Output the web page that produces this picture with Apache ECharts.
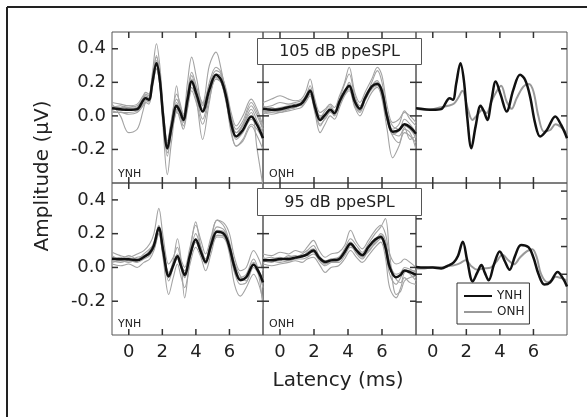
<!DOCTYPE html>
<html><head><meta charset="utf-8">
<script src="https://cdn.jsdelivr.net/npm/echarts@6/dist/echarts.min.js"></script>
<style>html,body{margin:0;padding:0;background:#fff}#c{width:587px;height:417px}</style>
</head><body><div id="c"></div>
<script>
// ---------- data ----------
const xRange = [-1, 8];
const xTicks = [0, 2, 4, 6];
const yTicks = [-0.2, 0, 0.2, 0.4];
const yTicksRightBottom = [-0.2, 0, 0.2, 0.4, 0.6];
const panelLabels = ['YNH', 'ONH'];
const levelLabels = ['105 dB ppeSPL', '95 dB ppeSPL'];

// 105 dB, YNH
const x105Y = [-1,-0.5,0,0.5,0.85,1.0,1.2,1.4,1.65,1.85,2.05,2.3,2.55,2.85,3.05,3.25,3.5,3.75,4.05,4.4,4.8,5.2,5.5,5.8,6.1,6.4,6.8,7.3,7.65,8.0];
const mean105Y = [0.046,0.04,0.036,0.04,0.092,0.105,0.096,0.195,0.314,0.215,-0.004,-0.193,-0.064,0.06,0.026,-0.024,0.096,0.205,0.125,0.026,0.155,0.245,0.215,0.115,-0.044,-0.123,-0.084,-0.004,-0.054,-0.133];
const ind105Y_1 = [0.08,0.07,0.06,0.07,0.12,0.14,0.13,0.25,0.43,0.30,0.05,-0.15,-0.02,0.10,0.06,0.01,0.14,0.26,0.17,0.06,0.18,0.27,0.25,0.14,0.00,-0.08,-0.03,0.08,0.02,-0.08];
const ind105Y_2 = [0.03,0.02,0.02,0.03,0.07,0.09,0.10,0.22,0.36,0.20,-0.08,-0.35,-0.15,0.02,0.00,-0.06,0.05,0.17,0.10,-0.02,0.12,0.22,0.20,0.10,-0.08,-0.18,-0.15,-0.06,-0.12,-0.20];
const ind105Y_3 = [0.07,0.0,-0.10,-0.08,0.03,0.08,0.09,0.18,0.28,0.18,-0.03,-0.22,-0.10,0.03,0.05,-0.02,0.10,0.22,0.16,0.08,0.30,0.38,0.28,0.12,-0.02,-0.10,-0.05,0.02,-0.20,-0.42];
const ind105Y_4 = [0.06,0.05,0.05,0.06,0.10,0.12,0.11,0.20,0.33,0.24,0.02,-0.16,-0.02,0.13,0.08,0.00,0.20,0.35,0.22,0.07,0.17,0.24,0.22,0.12,-0.02,-0.10,-0.06,0.04,-0.03,-0.10];
const ind105Y_5 = [0.02,0.02,0.01,0.02,0.06,0.08,0.07,0.16,0.28,0.19,-0.03,-0.20,-0.09,0.04,-0.02,-0.08,0.04,0.15,0.07,-0.05,0.10,0.22,0.20,0.09,-0.10,-0.18,-0.14,-0.05,-0.08,-0.14];
const ind105Y_6 = [0.05,0.06,0.04,0.05,0.11,0.13,0.12,0.22,0.35,0.25,0.01,-0.17,-0.06,0.18,0.04,-0.04,0.08,0.20,0.08,-0.14,0.08,0.25,0.24,0.16,0.02,-0.06,0.00,0.10,0.04,-0.06];
const ind105Y_7 = [0.04,0.05,0.06,0.05,0.10,0.12,0.08,0.19,0.30,0.22,0.02,-0.19,-0.08,0.05,0.02,-0.03,0.11,0.21,0.13,0.03,0.16,0.23,0.20,0.08,-0.06,-0.14,-0.10,-0.02,-0.06,-0.12];
const ind105Y_8 = [0.06,0.03,0.04,0.03,0.09,0.11,0.10,0.21,0.32,0.20,-0.02,-0.24,-0.08,0.08,0.04,-0.01,0.12,0.24,0.14,0.04,0.20,0.29,0.26,0.14,-0.03,-0.12,-0.05,0.06,0.00,-0.08];

// 105 dB, ONH
const x105O = [-1,-0.5,0,0.5,0.9,1.25,1.5,1.77,2.05,2.36,2.65,2.96,3.2,3.5,3.8,4.07,4.4,4.7,5.0,5.4,5.73,6.0,6.3,6.63,7.0,7.32,7.65,8.0];
const mean105O = [0.042,0.036,0.04,0.052,0.06,0.072,0.105,0.15,0.056,-0.024,0.006,0.036,0.016,0.086,0.145,0.18,0.086,0.042,0.105,0.175,0.19,0.145,-0.004,-0.094,-0.084,-0.05,-0.068,-0.107];
const ind105O_1 = [0.08,0.10,0.12,0.10,0.09,0.10,0.14,0.22,0.10,0.02,0.04,0.07,0.05,0.12,0.20,0.29,0.14,0.08,0.14,0.22,0.29,0.24,0.06,-0.04,-0.02,0.02,0.00,-0.04];
const ind105O_2 = [0.02,0.01,0.02,0.03,0.04,0.05,0.08,0.12,0.02,-0.10,-0.05,0.00,-0.02,0.05,0.12,0.15,0.05,0.00,0.06,0.14,0.17,0.10,-0.08,-0.25,-0.18,-0.10,-0.12,-0.16];
const ind105O_3 = [0.05,0.06,0.08,0.07,0.08,0.09,0.11,0.18,0.07,-0.01,0.03,0.06,0.03,0.10,0.19,0.25,0.12,0.06,0.10,0.20,0.27,0.20,0.02,-0.06,-0.08,-0.02,-0.05,-0.10];
const ind105O_4 = [0.03,0.02,0.03,0.04,0.05,0.07,0.10,0.14,0.04,-0.05,-0.02,0.02,0.01,0.07,0.13,0.16,0.06,0.02,0.09,0.16,0.18,0.12,-0.03,-0.12,-0.16,-0.08,-0.10,-0.20];
const ind105O_5 = [0.06,0.04,0.05,0.06,0.07,0.08,0.12,0.16,0.08,0.00,0.01,0.05,0.02,0.09,0.14,0.20,0.10,0.05,0.12,0.18,0.20,0.16,0.01,-0.08,-0.05,0.03,-0.02,-0.06];
const ind105O_6 = [0.04,0.05,0.03,0.05,0.06,0.06,0.09,0.13,0.05,-0.03,0.00,0.03,0.02,0.08,0.15,0.17,0.08,0.03,0.10,0.17,0.20,0.15,-0.01,-0.10,-0.12,-0.07,-0.14,-0.12];
const ind105O_7 = [0.01,0.03,0.02,0.04,0.05,0.07,0.11,0.15,0.03,-0.06,-0.01,0.03,0.00,0.07,0.13,0.18,0.07,0.03,0.10,0.18,0.21,0.13,-0.02,-0.11,-0.09,-0.06,-0.08,-0.13];

// 95 dB, YNH
const x95Y = [-1,-0.5,0,0.5,0.9,1.25,1.5,1.79,2.05,2.38,2.65,2.9,3.1,3.33,3.65,3.99,4.3,4.58,4.9,5.26,5.7,6.0,6.3,6.65,7.0,7.44,7.75,8.0];
const mean95Y = [0.052,0.048,0.048,0.042,0.062,0.086,0.131,0.235,0.101,-0.052,0.012,0.066,0.012,-0.044,0.072,0.165,0.092,0.032,0.131,0.211,0.195,0.121,0.002,-0.074,-0.058,0.016,-0.028,-0.088];
const ind95Y_1 = [0.09,0.07,0.06,0.08,0.10,0.14,0.20,0.35,0.18,0.02,0.06,0.12,0.05,0.00,0.12,0.25,0.16,0.08,0.18,0.28,0.26,0.20,0.06,-0.02,0.00,0.10,0.05,-0.02];
const ind95Y_2 = [0.02,0.01,0.02,0.00,0.03,0.05,0.10,0.20,0.05,-0.16,-0.06,0.02,-0.05,-0.12,0.02,0.12,0.06,-0.02,0.08,0.18,0.17,0.08,-0.10,-0.17,-0.12,-0.04,-0.10,-0.20];
const ind95Y_3 = [0.05,0.06,0.04,0.06,0.07,0.10,0.15,0.25,0.12,-0.04,0.04,0.17,0.06,-0.18,0.05,0.20,0.12,0.05,0.15,0.24,0.22,0.14,0.02,-0.06,-0.04,0.05,-0.02,-0.10];
const ind95Y_4 = [0.07,0.05,0.07,0.05,0.08,0.11,0.14,0.24,0.10,-0.08,0.00,0.06,0.02,-0.06,0.10,0.27,0.12,0.04,0.16,0.28,0.24,0.15,0.03,-0.05,-0.08,0.02,-0.04,-0.12];
const ind95Y_5 = [0.04,0.03,0.04,0.03,0.05,0.07,0.12,0.22,0.08,-0.06,0.01,0.05,0.00,-0.06,0.06,0.15,0.08,0.02,0.11,0.19,0.18,0.10,-0.03,-0.10,-0.09,0.00,-0.05,-0.25];
const ind95Y_6 = [0.06,0.05,0.05,0.04,0.06,0.09,0.13,0.23,0.11,-0.03,0.02,0.07,0.02,-0.02,0.08,0.17,0.09,0.05,0.14,0.22,0.21,0.14,0.01,-0.07,-0.05,0.03,-0.02,-0.07];
const ind95Y_7 = [0.03,0.04,0.03,0.05,0.06,0.08,0.11,0.20,0.07,-0.05,0.02,0.08,0.03,-0.04,0.07,0.15,0.08,0.03,0.12,0.19,0.19,0.11,-0.02,-0.08,-0.06,0.02,-0.03,-0.08];

// 95 dB, ONH
const x95O = [-1,-0.5,0,0.5,0.9,1.3,1.6,1.96,2.3,2.66,3.0,3.45,3.8,4.15,4.5,4.84,5.2,5.6,5.93,6.2,6.45,6.83,7.1,7.32,7.65,8.0];
const mean95O = [0.042,0.042,0.05,0.05,0.058,0.066,0.078,0.101,0.058,0.032,0.042,0.048,0.092,0.141,0.101,0.072,0.121,0.165,0.181,0.121,0.002,-0.058,-0.044,-0.018,-0.028,-0.044];
const ind95O_1 = [0.08,0.07,0.09,0.08,0.10,0.09,0.12,0.16,0.10,0.06,0.08,0.09,0.13,0.22,0.15,0.11,0.16,0.22,0.25,0.20,0.08,0.02,0.03,0.05,0.03,0.00];
const ind95O_2 = [0.02,0.01,0.02,0.03,0.04,0.03,0.05,0.06,0.02,-0.03,0.00,0.01,0.05,0.10,0.06,0.03,0.07,0.12,0.15,0.06,-0.12,-0.18,-0.12,-0.06,-0.09,-0.10];
const ind95O_3 = [0.05,0.06,0.04,0.07,0.06,0.08,0.10,0.13,0.07,0.04,0.05,0.06,0.11,0.17,0.13,0.09,0.14,0.20,0.24,0.29,0.08,-0.16,-0.14,-0.08,-0.06,-0.05];
const ind95O_4 = [0.03,0.05,0.06,0.04,0.05,0.07,0.08,0.09,0.04,0.01,0.03,0.04,0.08,0.13,0.08,0.05,0.10,0.14,0.17,0.10,-0.04,-0.10,-0.06,-0.02,-0.04,-0.08];
const ind95O_5 = [0.06,0.04,0.05,0.06,0.07,0.06,0.09,0.11,0.06,0.03,0.05,0.05,0.10,0.15,0.11,0.08,0.12,0.17,0.19,0.14,0.02,-0.04,-0.03,0.00,-0.01,-0.03];
const ind95O_6 = [0.04,0.03,0.05,0.05,0.06,0.07,0.07,0.10,0.05,0.02,0.04,0.05,0.09,0.14,0.09,0.06,0.11,0.15,0.18,0.12,0.00,-0.06,-0.04,-0.02,-0.03,-0.06];
const ind95O_7 = [0.05,0.04,0.03,0.04,0.05,0.05,0.06,0.08,0.05,0.02,0.03,0.03,0.07,0.12,0.10,0.07,0.09,0.15,0.20,0.16,0.03,-0.07,-0.09,-0.03,-0.02,-0.02];

// ---------- chart ----------
const FONT = 'DejaVu Sans';
const TXT = '#222';
const AX = '#555';
const TICKC = '#333';
const TICK = 6;
const pair = (xs, ys) => ys.slice(0, xs.length).map((y, i) => [xs[i], y]);

const grids = [], xAxis = [], yAxis = [], series = [];

function tickLine(x1, y1, x2, y2) {
  return {type: 'line', shape: {x1: x1, y1: y1, x2: x2, y2: y2}, style: {stroke: TICKC, lineWidth: 1.5}};
}

function panel(o) {
  const gi = grids.length;
  grids.push({left: o.left, top: o.top, width: o.width, height: o.height,
    show: !!o.border, borderColor: AX, borderWidth: 1, backgroundColor: 'transparent'});
  const xi = xAxis.length;
  xAxis.push({type: 'value', gridIndex: gi, min: xRange[0], max: xRange[1], position: 'bottom',
    splitLine: {show: false}, axisLine: {show: false, onZero: false}, axisTick: {show: false},
    axisLabel: {show: !!o.xLabels, customValues: xTicks, fontFamily: FONT, fontSize: 18, color: TXT, margin: 8}});
  const yi = yAxis.length;
  yAxis.push({type: 'value', gridIndex: gi, min: o.yMin, max: o.yMax, position: 'left',
    splitLine: {show: false}, axisLine: {show: false, onZero: false}, axisTick: {show: false},
    axisLabel: {show: !!o.yLabels, customValues: yTicks, fontFamily: FONT, fontSize: 18, color: TXT, margin: 6,
      formatter: v => v.toFixed(1)}});
  const ax = {xi, yi};
  // inside tick marks on both opposite edges, positioned through the axis scales
  if (o.xTickVals) {
    series.push({type: 'custom', xAxisIndex: xi, yAxisIndex: yi, silent: true, clip: false, z: 10,
      data: o.xTickVals.map(v => [v, 0]),
      renderItem: (params, api) => {
        const cs = params.coordSys;
        const x = api.coord([api.value(0), api.value(1)])[0];
        return {type: 'group', children: [
          tickLine(x, cs.y, x, cs.y + TICK),
          tickLine(x, cs.y + cs.height - TICK, x, cs.y + cs.height)]};
      }});
  }
  if (o.yTickVals) {
    series.push({type: 'custom', xAxisIndex: xi, yAxisIndex: yi, silent: true, clip: false, z: 10,
      data: o.yTickVals.map(v => [0, v]),
      renderItem: (params, api) => {
        const cs = params.coordSys;
        const y = api.coord([api.value(0), api.value(1)])[1];
        return {type: 'group', children: [
          tickLine(cs.x, y, cs.x + TICK, y),
          tickLine(cs.x + cs.width - TICK, y, cs.x + cs.width, y)]};
      }});
  }
  return ax;
}

function addLines(ax, xs, list, color, width, name, z) {
  list.forEach(ys => series.push({type: 'line', name: name, xAxisIndex: ax.xi, yAxisIndex: ax.yi,
    data: pair(xs, ys), smooth: 0.35, symbol: 'none', silent: true, z: z,
    itemStyle: {color: color}, lineStyle: {color: color, width: width}}));
}

const GRAY = '#a3a3a3', BLACK = '#111', GRAY2 = '#999';
const L = [112, 263, 416], W = [151, 153, 151];
const T = [32, 183], H = [151, 152];

const p1 = panel({left: L[0], top: T[0], width: W[0], height: H[0], border: true, yLabels: true, yMin: -0.4, yMax: 0.5, xTickVals: xTicks, yTickVals: yTicks});
const p2 = panel({left: L[1], top: T[0], width: W[1], height: H[0], border: true, yMin: -0.4, yMax: 0.5, xTickVals: xTicks, yTickVals: yTicks});
const p3 = panel({left: L[2], top: T[0], width: W[2], height: H[0], border: true, yMin: -0.4, yMax: 0.5, xTickVals: xTicks, yTickVals: yTicks});
const p4 = panel({left: L[0], top: T[1], width: W[0], height: H[1], border: true, yLabels: true, xLabels: true, yMin: -0.4, yMax: 0.5, xTickVals: xTicks, yTickVals: yTicks});
const p5 = panel({left: L[1], top: T[1], width: W[1], height: H[1], border: true, xLabels: true, yMin: -0.4, yMax: 0.5, xTickVals: xTicks, yTickVals: yTicks});
const p6 = panel({left: L[2], top: T[1], width: W[2], height: H[1], border: true, xLabels: true, yMin: -0.4, yMax: 0.5, xTickVals: xTicks});
const p6d = panel({left: L[2], top: 191.1, width: W[2], height: 138.6, yMin: -0.4, yMax: 0.6, yTickVals: yTicksRightBottom});

addLines(p1, x105Y, [ind105Y_1, ind105Y_2, ind105Y_3, ind105Y_4, ind105Y_5, ind105Y_6, ind105Y_7, ind105Y_8], GRAY, 1.1, 'ind', 2);
addLines(p1, x105Y, [mean105Y], BLACK, 2.5, 'YNH mean', 3);
addLines(p2, x105O, [ind105O_1, ind105O_2, ind105O_3, ind105O_4, ind105O_5, ind105O_6, ind105O_7], GRAY, 1.1, 'ind', 2);
addLines(p2, x105O, [mean105O], BLACK, 2.5, 'ONH mean', 3);
addLines(p4, x95Y, [ind95Y_1, ind95Y_2, ind95Y_3, ind95Y_4, ind95Y_5, ind95Y_6, ind95Y_7], GRAY, 1.1, 'ind', 2);
addLines(p4, x95Y, [mean95Y], BLACK, 2.5, 'YNH mean', 3);
addLines(p5, x95O, [ind95O_1, ind95O_2, ind95O_3, ind95O_4, ind95O_5, ind95O_6, ind95O_7], GRAY, 1.1, 'ind', 2);
addLines(p5, x95O, [mean95O], BLACK, 2.5, 'ONH mean', 3);
addLines(p3, x105O, [mean105O], GRAY2, 2, 'ONH', 2);
addLines(p3, x105Y, [mean105Y], BLACK, 2.5, 'YNH', 3);
addLines(p6d, x95O, [mean95O], GRAY2, 2, 'ONH', 2);
addLines(p6d, x95Y, [mean95Y], BLACK, 2.5, 'YNH', 3);

function txt(x, y, text, size, opts) {
  return Object.assign({type: 'text', x: x, y: y, z: 50,
    style: {text: text, fill: TXT, font: size + 'px "' + FONT + '"',
      align: 'left', verticalAlign: 'middle', textAlign: 'left', textVerticalAlign: 'middle'}}, opts || {});
}
function centered(t) { t.style.align = 'center'; t.style.textAlign = 'center'; return t; }

const graphic = [
  {type: 'line', z: 50, shape: {x1: 7, y1: 7, x2: 587, y2: 7}, style: {stroke: '#222', lineWidth: 2}},
  {type: 'line', z: 50, shape: {x1: 7, y1: 7, x2: 7, y2: 417}, style: {stroke: '#222', lineWidth: 2}},
  {type: 'rect', z: 40, shape: {x: 257.5, y: 38.5, width: 164, height: 26}, style: {fill: '#fff', stroke: AX, lineWidth: 1}},
  centered(txt(339.5, 52, levelLabels[0], 16)),
  {type: 'rect', z: 40, shape: {x: 257.5, y: 188.5, width: 164, height: 27}, style: {fill: '#fff', stroke: AX, lineWidth: 1}},
  centered(txt(339.5, 202.5, levelLabels[1], 16)),
  txt(118, 174, panelLabels[0], 11),
  txt(269, 174, panelLabels[1], 11),
  txt(118, 324, panelLabels[0], 11),
  txt(269, 324, panelLabels[1], 11),
  centered(txt(338, 381, 'Latency (ms)', 20)),
  centered(txt(43, 176, 'Amplitude (µV)', 20, {rotation: Math.PI / 2}))
];

const chart = echarts.init(document.getElementById('c'), null, {renderer: 'canvas'});
chart.setOption({
  animation: false,
  backgroundColor: '#fff',
  grid: grids, xAxis: xAxis, yAxis: yAxis, series: series,
  legend: {data: ['YNH', 'ONH'], orient: 'vertical', left: 457, top: 283,
    padding: [7, 5, 6, 6], itemGap: 4, itemWidth: 28, itemHeight: 10,
    borderColor: '#333', borderWidth: 1, backgroundColor: '#fff',
    itemStyle: {opacity: 0},
    textStyle: {fontFamily: FONT, fontSize: 12, color: TXT}, selectedMode: false},
  graphic: graphic
});
</script></body></html>
